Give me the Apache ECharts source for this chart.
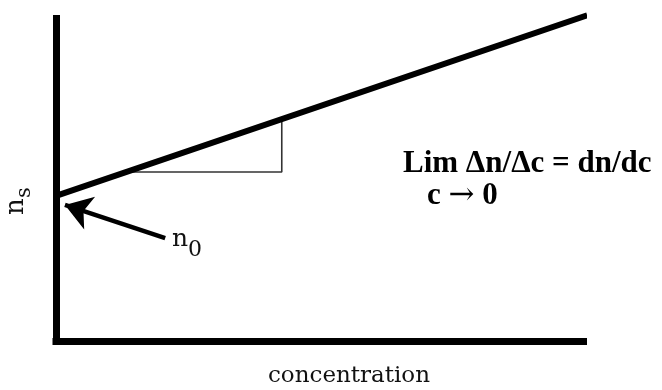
<!DOCTYPE html>
<html>
<head>
<meta charset="utf-8">
<script src="https://cdn.jsdelivr.net/npm/echarts@6/dist/echarts.min.js"></script>
<style>html,body{margin:0;padding:0;background:#fff;}#c{width:662px;height:390px;}</style>
</head>
<body>
<div id="c"></div>
<script>
// Data (axis units 0..100)
const mainLineX = [0, 100.7];
const mainLineY = [45, 101];
const triangleX = [13.3, 42.8, 42.8];
const triangleY = [52.4, 52.4, 68.8];
const arrowFrom = [20.7, 31.9];
const arrowTo = [1.7, 42.2];
const xAxisTitle = 'concentration';
const yAxisTitle = ['n', 's'];
const interceptLabel = ['n', '0'];
const formulaLine1 = 'Lim \u0394n/\u0394c = dn/dc';
const formulaLine2 = ['c', '\u2192', '0'];

const chart = echarts.init(document.getElementById('c'), null, {renderer: 'canvas'});
const axisCommon = {
  type: 'value', min: 0, max: 100,
  axisLine: {show: true, onZero: false, lineStyle: {color: '#000', width: 7, cap: 'square'}},
  axisTick: {show: false}, axisLabel: {show: false}, splitLine: {show: false}
};
const serif = 'DejaVu Serif';
chart.setOption({
  animation: false,
  backgroundColor: '#fff',
  grid: {left: 56, right: 78.5, top: 18.5, bottom: 49},
  xAxis: axisCommon,
  yAxis: axisCommon,
  series: [
    {type: 'line', data: mainLineX.map((x, i) => [x, mainLineY[i]]), showSymbol: false, clip: false,
     lineStyle: {color: '#000', width: 6}, z: 3},
    {type: 'line', data: triangleX.map((x, i) => [x, triangleY[i]]), showSymbol: false, clip: false,
     lineStyle: {color: '#333', width: 1.6}, z: 2},
    {type: 'lines', coordinateSystem: 'cartesian2d', symbol: ['none', 'arrow'], symbolSize: [15, 26],
     lineStyle: {color: '#000', width: 4.5, opacity: 1}, z: 3,
     data: [{coords: [arrowFrom, arrowTo]}]}
  ],
  graphic: [
    {type: 'text', x: 349, y: 388, style: {text: xAxisTitle, font: '23px "' + serif + '"', fill: '#111', textAlign: 'center', textVerticalAlign: 'bottom'}},
    {type: 'group', x: 29, y: 215, rotation: Math.PI / 2, children: [
      {type: 'text', x: 0, y: 0, style: {text: yAxisTitle[0], font: '26px "' + serif + '"', fill: '#111', textAlign: 'left', textVerticalAlign: 'bottom'}},
      {type: 'text', x: 17, y: 6, style: {text: yAxisTitle[1], font: '21px "' + serif + '"', fill: '#111', textAlign: 'left', textVerticalAlign: 'bottom'}}
    ]},
    {type: 'text', x: 172, y: 252, style: {text: interceptLabel[0], font: '25px "' + serif + '"', fill: '#111', textAlign: 'left', textVerticalAlign: 'bottom'}},
    {type: 'text', x: 188, y: 261, style: {text: interceptLabel[1], font: '22px "' + serif + '"', fill: '#111', textAlign: 'left', textVerticalAlign: 'bottom'}},
    {type: 'text', x: 403, y: 179, style: {text: formulaLine1, font: 'bold 31px "Liberation Serif"', fill: '#000', textAlign: 'left', textVerticalAlign: 'bottom'}},
    {type: 'text', x: 427, y: 211, style: {
      text: '{a|' + formulaLine2[0] + ' }{b|' + formulaLine2[1] + '}{a| ' + formulaLine2[2] + '}',
      textAlign: 'left', textVerticalAlign: 'bottom',
      rich: {
        a: {font: 'bold 31px "Liberation Serif"', fill: '#000', color: '#000'},
        b: {font: '31px "DejaVu Serif"', fill: '#000', color: '#000'}
      }}}
  ]
});
</script>
</body>
</html>
